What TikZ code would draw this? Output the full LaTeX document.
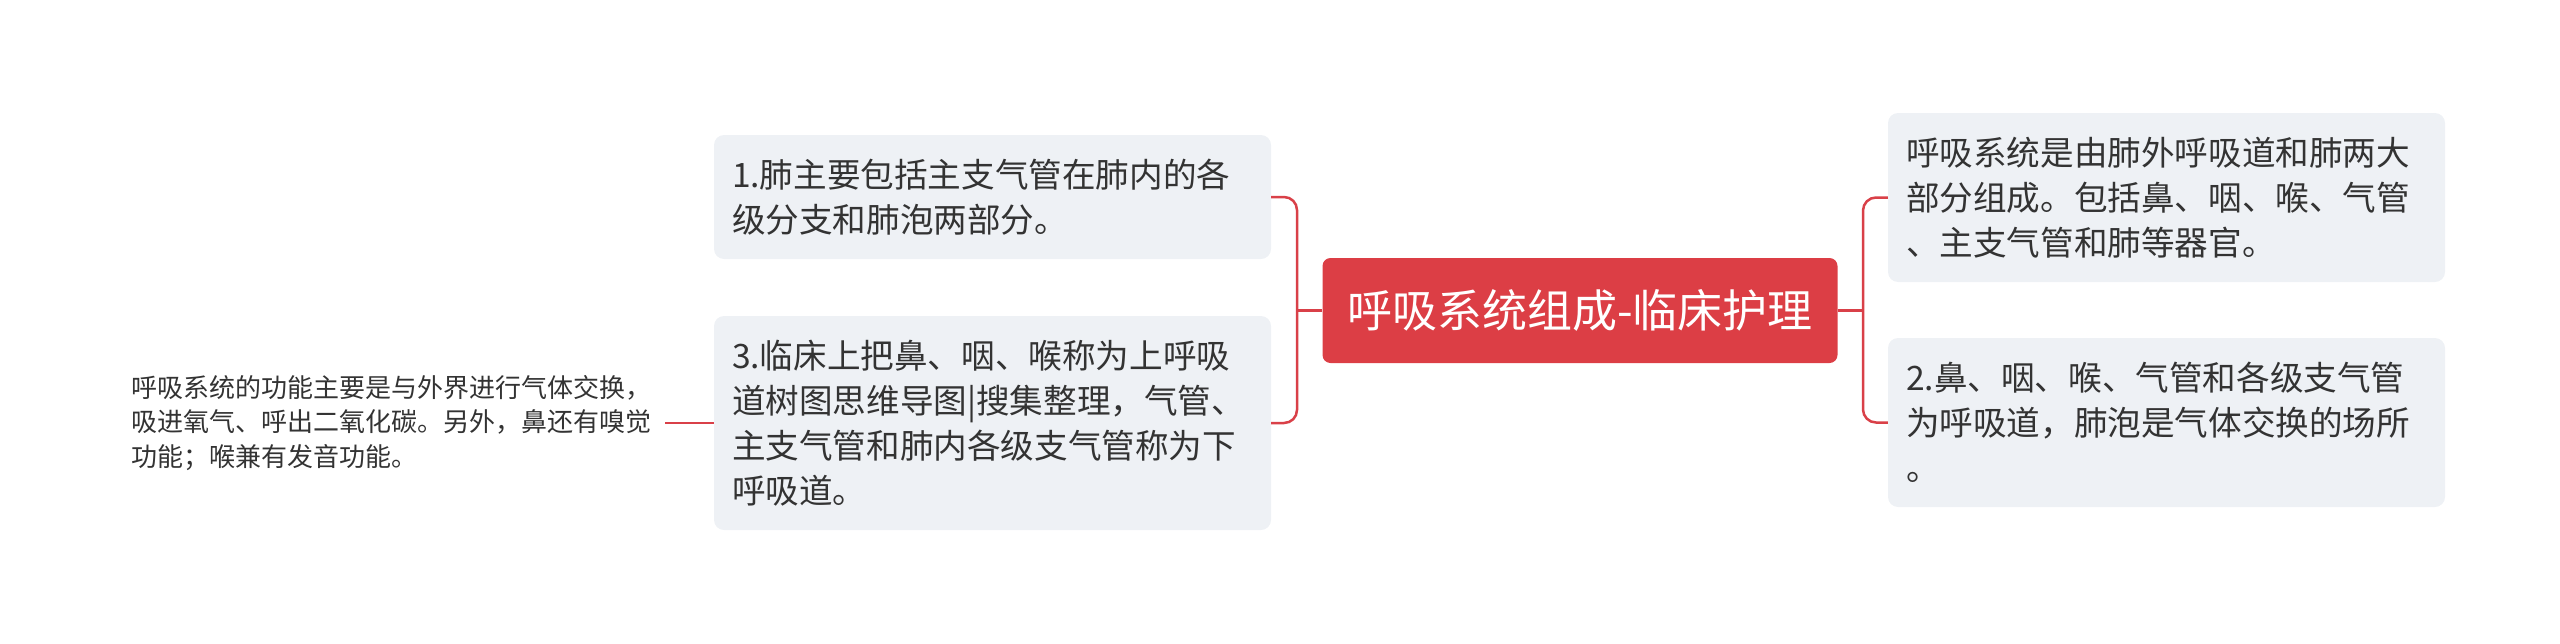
\documentclass[tikz,border=0pt]{standalone}
\usepackage{fontspec}
\newfontfamily\cjk{Noto Sans CJK SC}
\usetikzlibrary{positioning}
\definecolor{hubred}{RGB}{220,62,69}
\definecolor{linkred}{RGB}{217,64,72}
\definecolor{leafgray}{RGB}{238,241,245}
\definecolor{inkgray}{RGB}{51,51,51}
\tikzset{
  hubbox/.style={fill=hubred, rounded corners=8pt, minimum width=515pt, minimum height=105pt,
    inner sep=0pt, text=white, font=\cjk\fontsize{45}{54}\selectfont},
  leafbox/.style={fill=leafgray, rounded corners=10pt, minimum width=557pt, text width=521pt,
    inner xsep=18pt, inner ysep=0pt, align=left, text=inkgray, font=\cjk\fontsize{33.6}{45}\selectfont},
  notetext/.style={align=left, inner xsep=13pt, inner ysep=0pt, text=inkgray,
    font=\cjk\fontsize{26}{34.5}\selectfont},
  link/.style={draw=linkred, line width=2.5pt, rounded corners=13pt},
}
\begin{document}
\begin{tikzpicture}[x=1pt,y=-1pt]
\useasboundingbox (0,0) rectangle (2560,643);

% centre
\node[hubbox] (hub) at (1580,310.5) {呼吸系统组成-临床护理};

% left branch
\node[leafbox, minimum height=124pt] (L1) at (992.5,197) {1.肺主要包括主支气管在肺内的各\\级分支和肺泡两部分。};
\node[leafbox, minimum height=214pt] (L3) at (992.5,423) {3.临床上把鼻、咽、喉称为上呼吸\\道树图思维导图|搜集整理，气管、\\主支气管和肺内各级支气管称为下\\呼吸道。};
\node[notetext, left=49pt of L3] (note) {呼吸系统的功能主要是与外界进行气体交换，\\吸进氧气、呼出二氧化碳。另外，鼻还有嗅觉\\功能；喉兼有发音功能。};

% right branch
\node[leafbox, minimum height=169pt] (R1) at (2166.5,197.5) {呼吸系统是由肺外呼吸道和肺两大\\部分组成。包括鼻、咽、喉、气管\\、主支气管和肺等器官。};
\node[leafbox, minimum height=169pt] (R2) at (2166.5,422.5) {2.鼻、咽、喉、气管和各级支气管\\为呼吸道，肺泡是气体交换的场所\\。};

% connectors
\coordinate (lfork) at (1297,310.5);
\coordinate (rfork) at (1863,310.5);
\draw[link] (hub.west) -- (lfork);
\draw[link] (L1.east) -| (lfork) |- (L3.east);
\draw[link] (hub.east) -- (rfork);
\draw[link] (R1.west) -| (rfork) |- (R2.west);
\draw[link] (L3.west) -- (note.east);

\end{tikzpicture}
\end{document}
